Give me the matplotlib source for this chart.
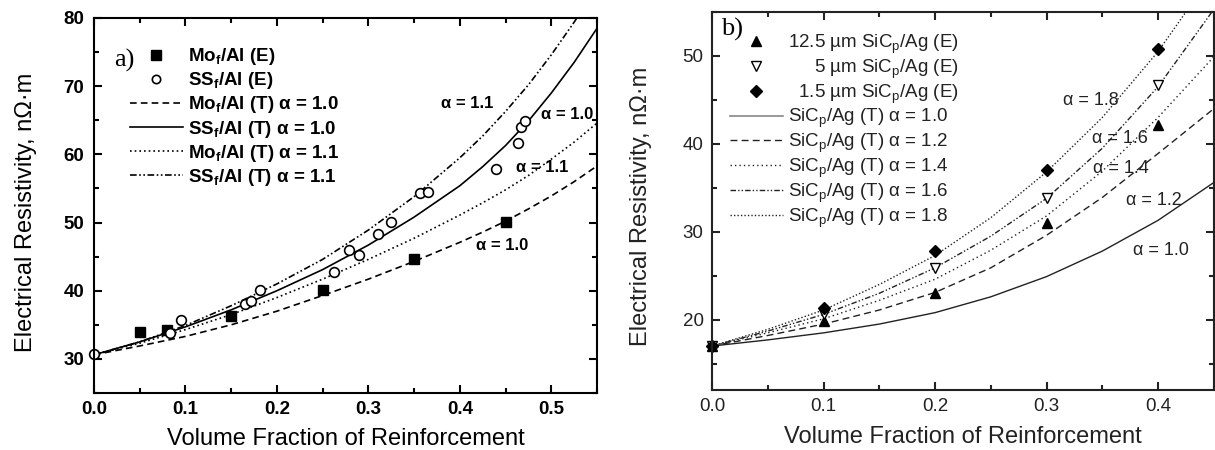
import matplotlib

matplotlib.use("Agg")
import matplotlib.pyplot as plt
from matplotlib.lines import Line2D
from matplotlib.ticker import MultipleLocator

plt.rcParams["font.family"] = ["Liberation Sans", "DejaVu Sans"]
plt.rcParams["mathtext.fontset"] = "custom"
plt.rcParams["mathtext.rm"] = "Liberation Sans"
plt.rcParams["mathtext.bf"] = "Liberation Sans:bold"

# ---- panel a: Mo_f/Al and SS_f/Al ----
mo_x = [0.05, 0.08, 0.15, 0.25, 0.35, 0.45]
mo_y = [33.9, 34.3, 36.3, 40.1, 44.6, 50.1]
ss_x = [0.0, 0.083, 0.095, 0.165, 0.172, 0.181, 0.262, 0.279, 0.290, 0.310,
        0.325, 0.356, 0.365, 0.439, 0.464, 0.467, 0.471]
ss_y = [30.7, 33.8, 35.7, 38.0, 38.5, 40.1, 42.7, 46.0, 45.3, 48.3,
        50.1, 54.4, 54.5, 57.8, 61.6, 64.0, 64.9]

fa = [0.0, 0.05, 0.10, 0.15, 0.20, 0.25, 0.30, 0.35, 0.40, 0.425, 0.45, 0.475, 0.50, 0.525, 0.55]
mo_t10 = [30.6, 31.9, 33.3, 35.0, 37.0, 39.3, 41.7, 44.3, 47.1, 48.6, 50.2, 52.0, 53.9, 56.0, 58.3]
ss_t10 = [30.6, 32.5, 34.7, 37.2, 40.0, 43.1, 46.7, 50.8, 55.4, 58.2, 61.3, 64.9, 69.0, 73.5, 78.5]
mo_t11 = [30.6, 32.3, 34.3, 36.5, 39.0, 41.7, 44.6, 47.7, 51.1, 52.9, 54.8, 56.9, 59.3, 61.8, 64.6]
ss_t11 = [30.6, 32.5, 34.9, 37.8, 41.0, 44.6, 48.9, 53.8, 59.5, 62.7, 66.3, 70.2, 74.6, 79.4, 84.5]

a_notes = ["α = 1.1", "α = 1.0", "α = 1.1", "α = 1.0"]
a_note_x = [0.408, 0.517, 0.490, 0.446]
a_note_y = [67.5, 65.9, 58.0, 46.6]

# ---- panel b: SiCp/Ag ----
fb_pts = [0.0, 0.1, 0.2, 0.3, 0.4]
sic125 = [17.0, 19.8, 23.0, 31.0, 42.2]
sic5 = [17.0, 20.6, 25.9, 33.8, 46.7]
sic15 = [17.0, 21.3, 27.8, 37.0, 50.8]

fb = [0.0, 0.05, 0.10, 0.15, 0.20, 0.25, 0.30, 0.35, 0.40, 0.45]
b_t10 = [17.0, 17.7, 18.5, 19.5, 20.8, 22.6, 24.9, 27.8, 31.3, 35.6]
b_t12 = [17.0, 18.2, 19.5, 21.1, 23.1, 25.9, 29.6, 33.9, 38.9, 44.0]
b_t14 = [17.0, 18.5, 20.1, 22.2, 24.6, 27.9, 31.8, 36.9, 43.0, 49.9]
b_t16 = [17.0, 18.7, 20.6, 23.0, 25.9, 29.5, 33.8, 39.5, 46.5, 55.3]
b_t18 = [17.0, 18.9, 21.1, 24.0, 27.3, 31.6, 36.8, 43.0, 50.5, 59.5]

b_notes = ["α = 1.8", "α = 1.6", "α = 1.4", "α = 1.2", "α = 1.0"]
b_note_x = [0.340, 0.366, 0.367, 0.396, 0.403]
b_note_y = [44.9, 40.6, 37.2, 33.6, 27.9]

DASH = (0, (4, 2.5))
DOT = (0, (1, 1.8))
DASH_DOT_DOT = (0, (4, 1.5, 1, 1.5, 1, 1.5))

fig = plt.figure(figsize=(12.15, 4.5), dpi=100)
ax_a = fig.add_axes([0.0774, 0.1267, 0.414, 0.8333])
ax_b = fig.add_axes([0.586, 0.1333, 0.413, 0.84])


def style_axes(ax, color, lw, bold):
    for spine in ax.spines.values():
        spine.set_linewidth(lw)
        spine.set_color(color)
    ax.tick_params(which="both", direction="in", top=True, right=True,
                   color=color, width=lw, labelsize=13.5, labelcolor=color)
    ax.tick_params(which="major", length=6)
    ax.tick_params(which="minor", length=3.5)
    ax.tick_params(axis="x", pad=6)
    if bold:
        for lab in ax.get_xticklabels() + ax.get_yticklabels():
            lab.set_fontweight("bold")


# panel a
k = "black"
ax_a.plot(fa, mo_t10, color=k, lw=1.2, linestyle=DASH)
ax_a.plot(fa, ss_t10, color=k, lw=1.2)
ax_a.plot(fa, mo_t11, color=k, lw=1.2, linestyle=DOT)
ax_a.plot(fa, ss_t11, color=k, lw=1.2, linestyle=DASH_DOT_DOT)
ax_a.plot(mo_x, mo_y, "s", color=k, ms=7, clip_on=False)
ax_a.plot(ss_x, ss_y, "o", mfc="white", mec=k, mew=1.2, ms=7, clip_on=False)
ax_a.set_xlim(0, 0.55)
ax_a.set_ylim(25, 80)
ax_a.set_xticks([0, 0.1, 0.2, 0.3, 0.4, 0.5])
ax_a.set_xticklabels(["0.0", "0.1", "0.2", "0.3", "0.4", "0.5"])
ax_a.xaxis.set_minor_locator(MultipleLocator(0.05))
ax_a.set_yticks([30, 40, 50, 60, 70, 80])
ax_a.yaxis.set_minor_locator(MultipleLocator(5))
style_axes(ax_a, k, 1.5, True)
ax_a.tick_params(axis="y", pad=7)
ax_a.set_xlabel("Volume Fraction of Reinforcement", fontsize=17)
ax_a.set_ylabel("Electrical Resistivity, nΩ·m", fontsize=17)
ax_a.xaxis.set_label_coords(0.5, -0.093)
ax_a.yaxis.set_label_coords(-0.113, 0.481)
for txt, x, y in zip(a_notes, a_note_x, a_note_y):
    ax_a.text(x, y, txt, ha="center", va="center", fontsize=12, fontweight="bold")
ax_a.text(0.06, 0.888, "a)", transform=ax_a.transAxes, ha="center", va="center",
          fontsize=19, family="Liberation Serif")

handles_a = [
    Line2D([], [], marker="s", color=k, ls="none", ms=7),
    Line2D([], [], marker="o", mfc="white", mec=k, mew=1.2, ls="none", ms=6),
    Line2D([], [], color=k, lw=1.2, linestyle=DASH),
    Line2D([], [], color=k, lw=1.2),
    Line2D([], [], color=k, lw=1.2, linestyle=DOT),
    Line2D([], [], color=k, lw=1.2, linestyle=DASH_DOT_DOT),
]
labels_a = [
    r"Mo$_\mathbf{f}$/Al (E)",
    r"SS$_\mathbf{f}$/Al (E)",
    r"Mo$_\mathbf{f}$/Al (T) α = 1.0",
    r"SS$_\mathbf{f}$/Al (T) α = 1.0",
    r"Mo$_\mathbf{f}$/Al (T) α = 1.1",
    r"SS$_\mathbf{f}$/Al (T) α = 1.1",
]
ax_a.legend(handles_a, labels_a, loc="upper left", bbox_to_anchor=(0.0716, 0.925),
            frameon=False, borderpad=0, borderaxespad=0, handlelength=2.8,
            handletextpad=0.3, labelspacing=0.17,
            prop={"size": 13.5, "weight": "bold"})

# panel b
g = "#222222"
ax_b.plot(fb, b_t10, color=g, lw=1.0)
ax_b.plot(fb, b_t12, color=g, lw=1.0, linestyle=(0, (5, 3)))
ax_b.plot(fb, b_t14, color=g, lw=1.0, linestyle=(0, (1, 2.2)))
ax_b.plot(fb, b_t16, color=g, lw=1.0, linestyle=DASH_DOT_DOT)
ax_b.plot(fb, b_t18, color=g, lw=1.0, linestyle=(0, (1, 1.5)))
ax_b.plot(fb_pts, sic125, "^", color="black", ms=7, clip_on=False)
ax_b.plot(fb_pts, sic5, "v", mfc="white", mec="black", mew=1.0, ms=7, clip_on=False)
ax_b.plot(fb_pts, sic15, "D", color="black", ms=6, clip_on=False)
ax_b.set_xlim(0, 0.45)
ax_b.set_ylim(12, 55)
ax_b.set_xticks([0, 0.1, 0.2, 0.3, 0.4])
ax_b.set_xticklabels(["0.0", "0.1", "0.2", "0.3", "0.4"])
ax_b.xaxis.set_minor_locator(MultipleLocator(0.05))
ax_b.set_yticks([20, 30, 40, 50])
ax_b.yaxis.set_minor_locator(MultipleLocator(5))
style_axes(ax_b, g, 1.5, False)
ax_b.tick_params(axis="y", pad=6)
ax_b.set_xlabel("Volume Fraction of Reinforcement", fontsize=17, color=g)
ax_b.set_ylabel("Electrical Resistivity, nΩ·m", fontsize=17, color=g)
ax_b.xaxis.set_label_coords(0.5, -0.095)
ax_b.yaxis.set_label_coords(-0.12, 0.487)
for txt, x, y in zip(b_notes, b_note_x, b_note_y):
    ax_b.text(x, y, txt, ha="center", va="center", fontsize=13, color=g)
ax_b.text(0.04, 0.955, "b)", transform=ax_b.transAxes, ha="center", va="center",
          fontsize=19, family="Liberation Serif")

handles_b = [
    Line2D([], [], marker="^", color="black", ls="none", ms=7),
    Line2D([], [], marker="v", mfc="white", mec="black", ls="none", ms=7),
    Line2D([], [], marker="D", color="black", ls="none", ms=6),
    Line2D([], [], color="#888888", lw=1.2),
    Line2D([], [], color=g, lw=1.0, linestyle=(0, (5, 3))),
    Line2D([], [], color=g, lw=1.0, linestyle=(0, (1, 2.2))),
    Line2D([], [], color=g, lw=1.0, linestyle=DASH_DOT_DOT),
    Line2D([], [], color=g, lw=1.0, linestyle=(0, (1, 1.5))),
]
labels_b = [
    r"12.5 µm SiC$_\mathregular{p}$/Ag (E)",
    r"     5 µm SiC$_\mathregular{p}$/Ag (E)",
    r"  1.5 µm SiC$_\mathregular{p}$/Ag (E)",
    r"SiC$_\mathregular{p}$/Ag (T) α = 1.0",
    r"SiC$_\mathregular{p}$/Ag (T) α = 1.2",
    r"SiC$_\mathregular{p}$/Ag (T) α = 1.4",
    r"SiC$_\mathregular{p}$/Ag (T) α = 1.6",
    r"SiC$_\mathregular{p}$/Ag (T) α = 1.8",
]
leg_b = ax_b.legend(handles_b, labels_b, loc="upper left", bbox_to_anchor=(0.036, 0.946),
                    frameon=False, borderpad=0, borderaxespad=0, handlelength=2.8,
                    handletextpad=0.3, labelspacing=0.07, prop={"size": 13.5})
for t in leg_b.get_texts():
    t.set_color(g)

fig.savefig("out.png", dpi=100)
